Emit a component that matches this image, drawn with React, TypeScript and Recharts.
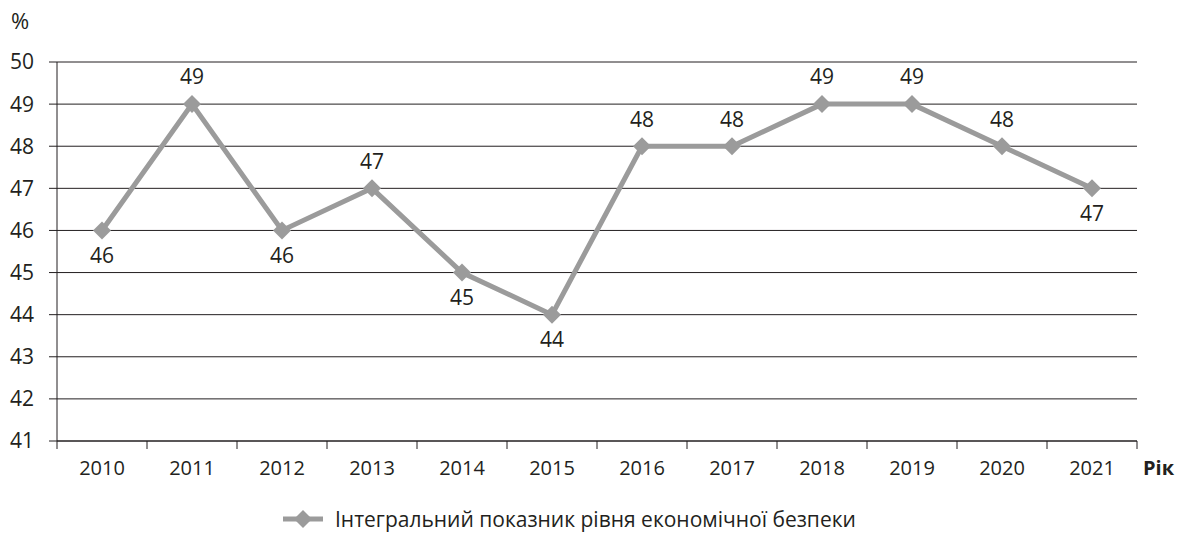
import React from 'react';
import { LineChart, Line, XAxis, YAxis, CartesianGrid, LabelList } from 'recharts';

const years = ['2010', '2011', '2012', '2013', '2014', '2015', '2016', '2017', '2018', '2019', '2020', '2021'];
const values = [46, 49, 46, 47, 45, 44, 48, 48, 49, 49, 48, 47];
const labelsBelow = ['2010', '2012', '2014', '2015', '2021'];
const yTicks = [41, 42, 43, 44, 45, 46, 47, 48, 49, 50];
const seriesName = 'Інтегральний показник рівня економічної безпеки';

const data = years.map((year, i) => ({ i, year, value: values[i] }));
const xTicks = [...years.map((_, i) => i - 0.5), years.length - 0.5];

const W = 1184;
const H = 542;
const M = { top: 62, right: 47, bottom: 51, left: 0 };
const Y_W = 57;
const BAND = (W - M.left - M.right - Y_W) / years.length;

const FONT = '"Open Sans", sans-serif';
const GRAY = '#9b9b9b';
const INK = '#231f20';

const XTick = ({ x, y, index }: any) => {
  if (index >= years.length) return null;
  return (
    <text x={x + BAND / 2} y={y} dy="0.71em" textAnchor="middle" fontSize={20} fill={INK} fontFamily={FONT}>
      {years[index]}
    </text>
  );
};

const Diamond = ({ cx, cy }: any) => (
  <polygon points={`${cx},${cy - 9} ${cx + 9},${cy} ${cx},${cy + 9} ${cx - 9},${cy}`} fill={GRAY} />
);

const ValueLabel = ({ x, y, value, index }: any) => {
  const below = labelsBelow.includes(years[index]);
  return (
    <text x={x} y={below ? y + 25 : y - 27} dy="0.35em" textAnchor="middle" fontSize={21} fill={INK} fontFamily={FONT}>
      {value}
    </text>
  );
};

export default function App() {
  return (
    <div style={{ position: 'absolute', left: 0, top: 0, width: W, height: H, background: '#fff' }}>
      <LineChart width={W} height={H} data={data} margin={M}>
        <CartesianGrid horizontal vertical={false} stroke={INK} strokeWidth={1} />
        <XAxis
          dataKey="i"
          type="number"
          domain={[-0.5, years.length - 0.5]}
          ticks={xTicks}
          interval={0}
          height={50}
          tickSize={8}
          tickMargin={12}
          stroke={INK}
          tick={<XTick />}
          label={({ viewBox }: any) => (
            <text x={viewBox.x + viewBox.width + 6} y={viewBox.y + 20} dy="0.71em" fontSize={20} fontWeight="bold" fill={INK} fontFamily={FONT}>
              Рік
            </text>
          )}
        />
        <YAxis
          domain={[41, 50]}
          ticks={yTicks}
          interval={0}
          width={Y_W}
          tickSize={8}
          tickMargin={15}
          stroke={INK}
          tick={{ fontSize: 21, fill: INK, fontFamily: FONT }}
          label={() => (
            <text x={11} y={29} fontSize={22} fill={INK} fontFamily={FONT}>
              %
            </text>
          )}
        />
        <Line
          dataKey="value"
          name={seriesName}
          stroke={GRAY}
          strokeWidth={5}
          dot={<Diamond />}
          activeDot={false}
          isAnimationActive={false}
        >
          <LabelList dataKey="value" content={<ValueLabel />} />
        </Line>
      </LineChart>
      <div
        style={{
          position: 'absolute',
          left: 283,
          top: 505,
          display: 'flex',
          alignItems: 'center',
          fontFamily: FONT,
          fontSize: 21,
          color: INK,
        }}
      >
        <svg width={40} height={20} style={{ marginRight: 12 }}>
          <line x1={0} y1={10} x2={40} y2={10} stroke={GRAY} strokeWidth={5} />
          <polygon points="20,1 29,10 20,19 11,10" fill={GRAY} />
        </svg>
        <span>{seriesName}</span>
      </div>
    </div>
  );
}
